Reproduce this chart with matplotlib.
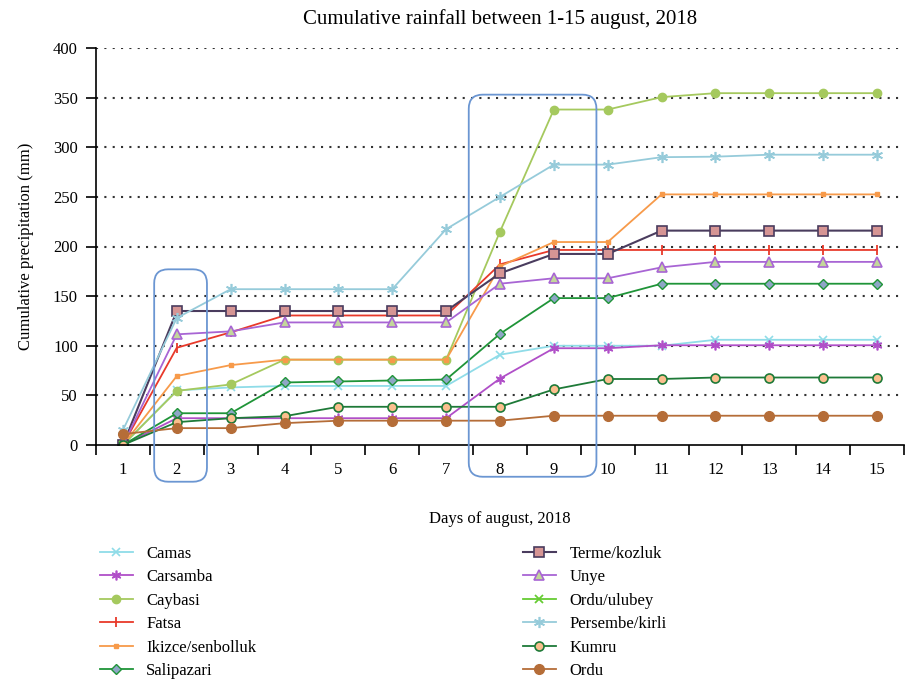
import numpy as np
import matplotlib
matplotlib.use("Agg")
import matplotlib.pyplot as plt
from matplotlib.patches import FancyBboxPatch
from matplotlib.transforms import IdentityTransform

plt.rcParams['font.family'] = ['Liberation Serif', 'DejaVu Serif']

days = list(range(1, 16))
nan = np.nan

camas      = [0, 55, 58, 59.5, 59.5, 59.5, 59.5, 91, 100, 100, 100, 106, 106, 106, 106]
carsamba   = [0, 27, 27, 27, 27, 27, 27, 67, 97.5, 97.5, 100.5, 100.5, 100.5, 100.5, 100.5]
caybasi    = [0, 54.5, 61, 86, 86, 86, 86, 215, 338, 338, 350.5, 354.5, 354.5, 354.5, 354.5]
fatsa      = [0, 98, 113.5, 130.5, 130.5, 130.5, 130.5, 182, 196.5, 196.5, 196.5, 196.5, 196.5, 196.5, 196.5]
ikizce     = [0, 69.5, 80.5, 86, 86, 86, 86, 180, 204.5, 204.5, 252.5, 252.5, 252.5, 252.5, 252.5]
salipazari = [0, 32, 32, 63, 64, 65, 66, 112, 148, 148, 162.5, 162.5, 162.5, 162.5, 162.5]
terme      = [0, 135, 135, 135, 135, 135, 135, 173, 192.5, 192.5, 216, 216, 216, 216, 216]
unye       = [0, 111.5, 114.5, 123.5, 123.5, 123.5, 123.5, 162.5, 168, 168, 179, 184.5, 184.5, 184.5, 184.5]
ordu_ulubey = [0, nan, nan, nan, nan, nan, nan, nan, nan, nan, nan, nan, nan, nan, nan]
persembe   = [15, 128, 157, 157, 157, 157, 217.5, 250, 282.5, 282.5, 290, 290.5, 292.5, 292.5, 292.5]
kumru      = [0, 23, 27, 29, 38.5, 38.5, 38.5, 38.5, 56, 66.5, 66.5, 68, 68, 68, 68]
ordu       = [11, 17, 17, 22, 24.5, 24.5, 24.5, 24.5, 29.5, 29.5, 29.5, 29.5, 29.5, 29.5, 29.5]

names = ["Camas", "Carsamba", "Caybasi", "Fatsa", "Ikizce/senbolluk", "Salipazari",
         "Terme/kozluk", "Unye", "Ordu/ulubey", "Persembe/kirli", "Kumru", "Ordu"]
values = [camas, carsamba, caybasi, fatsa, ikizce, salipazari,
          terme, unye, ordu_ulubey, persembe, kumru, ordu]

styles = [
    dict(color='#8FDCE8', marker='x', ms=6, mec='#8FDCE8', mfc='none', mew=1.2, lw=1.3),
    dict(color='#B04FC8', marker=(6, 2, 0), ms=7, mec='#B04FC8', mew=1.2, lw=1.3),
    dict(color='#A5C95E', marker='o', ms=6, mec='#A5C95E', mfc='#A5C95E', lw=1.3),
    dict(color='#E8392A', marker='|', ms=7, mec='#E8392A', mew=1.3, lw=1.3),
    dict(color='#F79A4A', marker='s', ms=3, mec='#F79A4A', mfc='#F79A4A', lw=1.3),
    dict(color='#1F9438', marker='D', ms=5.5, mec='#1F9438', mfc='#8EA6C6', mew=1.0, lw=1.3),
    dict(color='#4A3C5E', marker='s', ms=6.5, mec='#4A3C5E', mfc='#D69594', mew=1.2, lw=1.5),
    dict(color='#A865D4', marker='^', ms=7, mec='#A865D4', mfc='#C3D69B', mew=1.2, lw=1.3),
    dict(color='#66CC33', marker='x', ms=6, mec='#66CC33', mew=1.3, lw=1.3),
    dict(color='#96CBDA', marker=(6, 2, 0), ms=8, mec='#96CBDA', mew=1.2, lw=1.3),
    dict(color='#1E7A38', marker='o', ms=6.5, mec='#1E7A38', mfc='#FBBF8E', mew=1.2, lw=1.3),
    dict(color='#B56D38', marker='o', ms=7, mec='#B56D38', mfc='#B56D38', lw=1.3),
]

fig = plt.figure(figsize=(9.05, 6.82), dpi=100)
ax = fig.add_axes([96/905, 1-445/682, (904-96)/905, (445-48)/682])

handles = []
for name, vals, st in zip(names, values, styles):
    h, = ax.plot(days, vals, label=name, **st)
    handles.append(h)

ax.set_xlim(0.5, 15.5)
ax.set_ylim(0, 400)
ax.set_yticks(np.arange(0, 401, 50))
ax.set_xticks(days)
ax.set_xticks(np.arange(0.5, 15.6, 1), minor=True)
ax.tick_params(axis='x', which='major', length=0, pad=12, labelsize=12)
ax.tick_params(axis='x', which='minor', length=7, width=1.2, direction='out')
ax.tick_params(axis='y', length=7, width=1.2, direction='out', labelsize=12, pad=6)
for s in ['top', 'right']:
    ax.spines[s].set_visible(False)
ax.spines['left'].set_linewidth(1.2)
ax.spines['bottom'].set_linewidth(1.2)
for yv in range(50, 401, 50):
    ax.axhline(yv, color='#333333', lw=1.5, ls=(0, (1, 3)), zorder=0)

ax.set_title("Cumulative rainfall between 1-15 august, 2018", fontsize=15, pad=17)
ax.set_xlabel("Days of august, 2018", fontsize=12, labelpad=24)
ax.set_ylabel("Cumulative precipitation (mm)", fontsize=12, labelpad=14)

fig.canvas.draw()
def add_box(x0, x1, y0, y1):
    (px0, py0) = ax.transData.transform((x0, y0))
    (px1, py1) = ax.transData.transform((x1, y1))
    p = FancyBboxPatch((px0, py0), px1 - px0, py1 - py0,
                       boxstyle="round,pad=0,rounding_size=14",
                       transform=IdentityTransform(), fill=False,
                       ec='#6B96D2', lw=1.3, clip_on=False, zorder=5)
    fig.add_artist(p)

add_box(1.58, 2.56, -37, 177)
add_box(7.42, 9.79, -32, 353)

common = dict(loc='upper left', frameon=False, fontsize=12, handlelength=2.0,
              labelspacing=0.45, handletextpad=0.8, borderaxespad=0)
fig.legend(handles=handles[:6], bbox_to_anchor=(93/905, 1-539/682), **common)
fig.legend(handles=handles[6:], bbox_to_anchor=(516/905, 1-539/682), **common)

fig.savefig("out.png", dpi=100)
